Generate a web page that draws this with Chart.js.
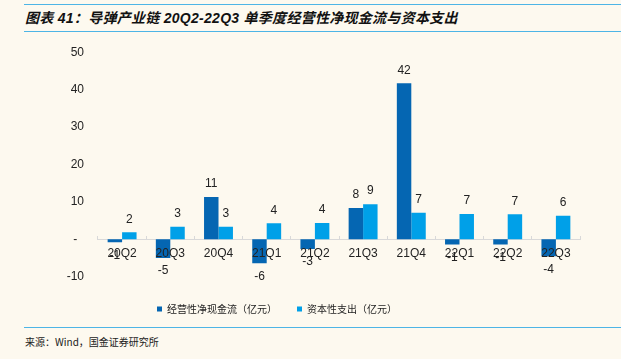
<!DOCTYPE html>
<html>
<head>
<meta charset="utf-8">
<script src="https://cdn.jsdelivr.net/npm/chart.js@4"></script>
<style>
  html, body { margin: 0; padding: 0; background: #fdf9ef; }
  body { width: 621px; height: 359px; position: relative; overflow: hidden; }
  .title {
    position: absolute; left: 24px; right: 0; top: 4px; height: 26px;
    border-top: 1.5px solid #4db5e6; border-bottom: 1.5px solid #4db5e6;
    font: italic bold 14px "Liberation Sans", "Noto Sans CJK SC", sans-serif;
    line-height: 26px; padding-left: 1px; color: #111; letter-spacing: 0.28px;
  }
  .wrap { position: absolute; left: 0; top: 31px; width: 621px; height: 295px; }
  .foot {
    position: absolute; left: 24px; right: 0; top: 327px;
    border-top: 1.5px solid #4db5e6;
    font: 10px "Noto Sans CJK SC", "Liberation Sans", sans-serif;
    line-height: 28px; padding-left: 1px; color: #222;
  }
</style>
</head>
<body>
<div class="title">图表 41：导弹产业链 20Q2-22Q3 单季度经营性净现金流与资本支出</div>
<div class="wrap"><canvas id="c"></canvas></div>
<div class="foot">来源：Wind，国金证券研究所</div>
<script>
'use strict';

// ── Data ──────────────────────────────────────────────
const quarters   = ['20Q2', '20Q3', '20Q4', '21Q1', '21Q2', '21Q3', '21Q4', '22Q1', '22Q2', '22Q3'];
const operCash   = [-0.8, -5.0, 11.3, -6.4, -2.6, 8.4, 41.7, -1.4, -1.4, -4.5];   // 经营性净现金流
const capex      = [1.9, 3.4, 3.4, 4.3, 4.4, 9.4, 7.1, 6.8, 6.7, 6.3];           // 资本性支出
const yTicks     = [-10, 0, 10, 20, 30, 40, 50];

const C_OPER  = '#0566b2';
const C_CAPEX = '#00a0e8';
const FONT    = '"Liberation Sans", Arial, sans-serif';
const LEGEND_SHIFT = -45;   // legend sits left of centre in the original

// value labels above / below each bar
const barLabels = {
  id: 'barLabels',
  afterDatasetsDraw(chart) {
    const ctx = chart.ctx;
    ctx.save();
    ctx.font = '12px ' + FONT;
    ctx.fillStyle = '#222';
    ctx.textAlign = 'center';
    ctx.textBaseline = 'middle';
    chart.data.datasets.forEach((ds, i) => {
      chart.getDatasetMeta(i).data.forEach((bar, j) => {
        const v = ds.data[j];
        const y = v >= 0 ? bar.y - 13 : bar.y + 13;
        ctx.fillText(String(Math.round(v)), bar.x, y);
      });
    });
    ctx.restore();
  },
};

const legendShift = {
  id: 'legendShift',
  afterLayout(chart) {
    if (!chart.legend) return;
    chart.legend.left  += LEGEND_SHIFT;
    chart.legend.right += LEGEND_SHIFT;
  },
};

new Chart(document.getElementById('c'), {
  type: 'bar',
  data: {
    labels: quarters,
    datasets: [
      { label: '经营性净现金流（亿元）', data: operCash, backgroundColor: C_OPER },
      { label: '资本性支出（亿元）',     data: capex,    backgroundColor: C_CAPEX },
    ],
  },
  options: {
    responsive: true,
    maintainAspectRatio: false,
    animation: false,
    layout: { padding: { top: 9, left: 64, right: 41, bottom: 2 } },
    datasets: { bar: { categoryPercentage: 0.6, barPercentage: 1 } },
    plugins: {
      legend: {
        position: 'bottom',
        title: { display: true, text: '', font: { size: 1 }, padding: { top: 0, bottom: 6 } },
        labels: {
          boxWidth: 5, boxHeight: 5, padding: 20, color: '#222',
          font: { family: '"Noto Sans CJK SC", sans-serif', size: 10 },
        },
      },
      tooltip: { enabled: false },
    },
    scales: {
      x: {
        position: { y: 0 },
        grid: { display: true, drawOnChartArea: false, color: '#d9d9d9', tickLength: -4, offset: true },
        border: { color: '#d9d9d9', width: 1 },
        ticks: { z: 1, color: '#222', padding: 11, font: { family: FONT, size: 12 }, maxRotation: 0 },
      },
      y: {
        min: -10,
        max: 50,
        afterBuildTicks: (s) => { s.ticks = yTicks.map(v => ({ value: v })); },
        afterFit: (s) => { s.width = 34; },
        grid: { display: false, drawTicks: false },
        border: { display: false },
        ticks: {
          color: '#222', padding: 14, font: { family: FONT, size: 12 },
          callback: (v) => v === 0 ? '-  ' : v,
        },
      },
    },
  },
  plugins: [barLabels, legendShift],
});
</script>
</body>
</html>
